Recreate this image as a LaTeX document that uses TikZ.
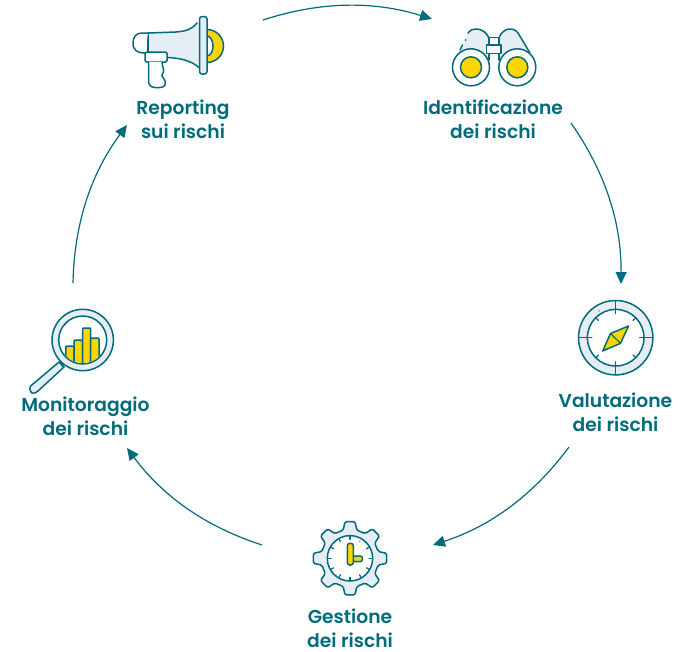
\documentclass[tikz,border=0pt]{standalone}
\usepackage{fontspec}
\setmainfont{Poppins}[BoldFont={Poppins SemiBold}]
\usetikzlibrary{arrows.meta}
\definecolor{teal}{HTML}{006B7A}
\definecolor{pale}{HTML}{E6EEF5}
\definecolor{gold}{HTML}{FFD500}
\tikzset{
  icon/.style={draw=teal,line width=1.5pt,line join=round,line cap=round},
  paleicon/.style={icon,fill=pale},
  goldicon/.style={icon,fill=gold},
  whiteicon/.style={icon,fill=white},
  fine/.style={draw=teal,line width=1.2pt,line cap=round},
  lab/.style={text=teal,font=\fontsize{18.7}{24}\selectfont\bfseries,align=center,anchor=center,inner sep=0pt},
  cycleflow/.style={draw=teal,line width=1.2pt,-{Triangle[length=12pt,width=11pt]},bend left=17.7,looseness=0.92},
}
\begin{document}
\begin{tikzpicture}[x=1pt,y=-1pt]
\useasboundingbox (0,0) rectangle (684,651);
% labels
\node[lab] (reporting) at (183,119) {Reporting\\sui rischi};
\node[lab] (identificazione) at (493,119) {Identificazione\\dei rischi};
\node[lab] (valutazione) at (615.5,412) {Valutazione\\dei rischi};
\node[lab] (gestione) at (350,628) {Gestione\\dei rischi};
\node[lab] (monitoraggio) at (85.5,416) {Monitoraggio\\dei rischi};
% connector ends
\coordinate (a1) at (263,20);  \coordinate (b1) at (432,19);
\coordinate (a2) at (571,123); \coordinate (b2) at (621,284);
\coordinate (a3) at (569,447); \coordinate (b3) at (433,545);
\coordinate (a4) at (262,545); \coordinate (b4) at (127,448);
\coordinate (a5) at (73,283);  \coordinate (b5) at (127,125);
\foreach \i in {1,...,5} {\draw[cycleflow] (a\i) to (b\i);}

% megaphone
\fill[gold] (207,30) arc[start angle=-90,end angle=90,radius=16.5] -- cycle;
\draw[icon] (207,29.5) arc[start angle=-90,end angle=90,radius=16.5];
\fill[white] (207,36) .. controls (215,37) and (215,55) .. (207,56) -- cycle;
\draw[icon] (207,36) .. controls (215,37) and (215,55) .. (207,56);
\path[fill=pale] (148,33) -- (176,32) .. controls (186,31) and (195,27) .. (200,21) -- (200,68) .. controls (193,62) and (183,58) .. (167,57) -- (148,57) -- cycle;
\draw[icon] (148,33) -- (176,32) .. controls (186,31) and (191,30) .. (197,23);
\draw[icon] (167,57.5) .. controls (183,58) and (193,62) .. (199.5,68);
\draw[icon] (148,33) -- (148,53);
\draw[whiteicon] (148,33) -- (142,33) .. controls (136,33) and (133,37) .. (133,43) .. controls (133,50) and (137,53) .. (145,53);
\draw[paleicon,rounded corners=2.5pt] (199.5,16.5) rectangle (207,74);
\draw[whiteicon,rounded corners=1.5pt] (145,52) rectangle (167,62);
\draw[whiteicon] (148.5,62) -- (148.5,81) .. controls (148.5,85) and (151,87.5) .. (155,87.5) -- (160,87.5) .. controls (165,87.5) and (166,84) .. (165,81) .. controls (164,77) and (160,77) .. (163,73) .. controls (165,70) and (162,67) .. (162,62);

% binoculars
\path[fill=pale] (459,52) -- (468,33) .. controls (472,27) and (484,27) .. (489,38) -- (489,60) -- (471,52) -- cycle;
\path[fill=pale] (530,53) -- (518,33) .. controls (514,27) and (503,27) .. (499,38) -- (499,60) -- (517,52) -- cycle;
\draw[icon] (460,50) -- (462.5,45);
\draw[icon] (465.5,40) -- (465.7,40);
\draw[icon] (468,33) .. controls (472,27) and (484,27) .. (489,38);
\draw[icon] (530,53) -- (518,33) .. controls (514,27) and (503,27) .. (499,38);
\draw[icon] (489,37.5) -- (499,37.5);
\draw[icon] (489,38) -- (489,60);
\draw[icon] (499,38) -- (499,60);
\draw[whiteicon] (471,67.3) circle[radius=18.5];
\draw[whiteicon] (517.3,67.3) circle[radius=18.5];
\draw[goldicon] (471,67.3) circle[radius=10.5];
\draw[goldicon] (517.3,67.3) circle[radius=10.5];
\draw[whiteicon] (486.7,45) rectangle (501,53.3);

% compass
\draw[paleicon] (615.7,337.7) circle[radius=37.2];
\draw[whiteicon] (615.7,337.7) circle[radius=28.3];
\begin{scope}[shift={(615.7,337.7)}]
  \foreach \a in {0,90,180,270} {\draw[fine] (\a:24) -- (\a:37);}
  \foreach \a in {45,135,225} {\draw[fine] (\a:24.5) -- (\a:28);}
  \draw[fine] (-45:24.5) -- (-45:28);
  \draw[fine] (-122:31.5) -- (-122:31.7);
\end{scope}
\draw[goldicon] (628.5,326) -- (610.5,333.5) -- (602.7,351) -- (620.5,343.3) -- cycle;
\draw[fine] (610.5,333.5) -- (620.5,343.3);

% gear
\begin{scope}[shift={(350,558.3)}]
  \draw[paleicon,rounded corners=1.5pt] (-13.5:29) foreach \a in {0,45,...,315} {
      -- (\a-13.5:29) -- (\a-7.8:37) -- (\a+7.8:37) -- (\a+13.5:29)
    } -- cycle;
  \draw[whiteicon] (0,0) circle[radius=22.7];
  \foreach \a in {0,30,60,90,120,150,180,210,240,270,330} {\draw[fine] (\a:19) -- (\a:22);}
  \draw[fine] (-60:19.5) -- (-60:19.7);
\end{scope}
\draw[goldicon,rounded corners=2pt] (353,556) -- (362.3,556) -- (362.3,561.7) -- (353,561.7) -- cycle;
\draw[goldicon,rounded corners=2.5pt] (347.3,543.3) rectangle (353.3,565);

% magnifier
\draw[paleicon] (59,362) -- (64,367) -- (38,391) .. controls (35,394) and (31,394) .. (30.5,391) .. controls (29,388) and (30,386) .. (33,384) -- cycle;
\draw[whiteicon] (60,360.5) -- (63,367);
\draw[paleicon] (82.7,340) circle[radius=30.7];
\draw[whiteicon] (82.7,340) circle[radius=24];
\begin{scope}
  \clip (82.7,340) circle[radius=23];
  \draw[goldicon,rounded corners=1pt] (65.8,346) rectangle (74,370);
  \draw[goldicon,rounded corners=1pt] (74,340) rectangle (82.5,370);
  \draw[goldicon,rounded corners=1pt] (82.5,328) rectangle (90.7,370);
  \draw[goldicon,rounded corners=1pt] (90.7,338) rectangle (99,370);
\end{scope}
\draw[fine] (65.5,324.5) -- (65.7,324.5);
\end{tikzpicture}
\end{document}
